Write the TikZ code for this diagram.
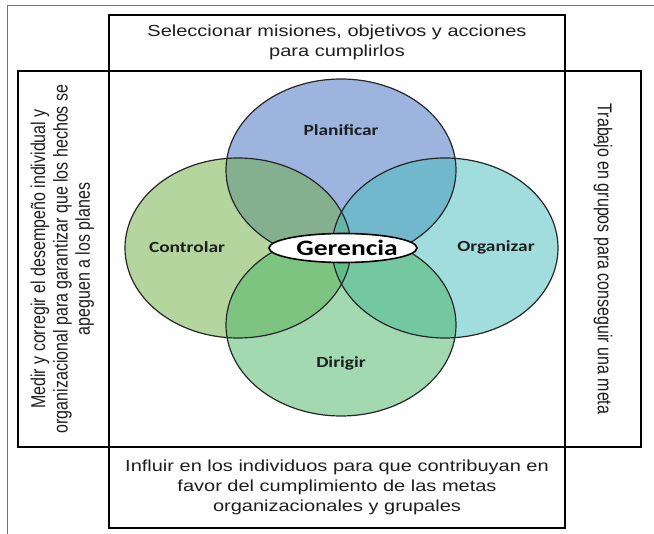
\documentclass[tikz,border=0pt]{standalone}
\usepackage{fontspec}
\usepackage{graphicx}
\setmainfont{Liberation Sans}
\newfontfamily\calfont{Carlito}
\usetikzlibrary{shapes.geometric}
\definecolor{cP}{RGB}{59,107,191}
\definecolor{cC}{RGB}{109,173,65}
\definecolor{cO}{RGB}{71,189,189}
\definecolor{cD}{RGB}{71,181,101}
\definecolor{txt}{RGB}{30,30,30}
\begin{document}
\begin{tikzpicture}[x=1pt,y=-1pt,
  boxline/.style={draw=black,line width=1.4pt},
  framel/.style={draw=black!55,line width=0.8pt},
  vennfill/.style={fill opacity=0.5},
  vennline/.style={draw=black!85,line width=1.2pt},
  btxt/.style={font=\fontsize{16}{20}\selectfont,text=txt,align=center,inner sep=0pt},
  vtxt/.style={font=\fontsize{16}{18}\selectfont,text=txt,align=center,inner sep=0pt},
  ltxt/.style={font=\calfont\bfseries\fontsize{15.5}{18}\selectfont,text=txt,inner sep=0pt},
  gtxt/.style={font=\calfont\bfseries\fontsize{22}{24}\selectfont,text=black,inner sep=0pt}]
\useasboundingbox (0,0) rectangle (654,534);
\fill[white] (0,0) rectangle (654,534);
% outer frame
\coordinate (f1) at (7,534);
\coordinate (f2) at (7,5);
\coordinate (f3) at (654,5);
\draw[framel] (f1) -- (f2) -- (f3);
% cross boxes
\draw[boxline] (109,15) rectangle (565,528);
\draw[boxline] (18,71) rectangle (641,447);
% venn fills
\fill[cP,vennfill] (341,170) ellipse [x radius=115, y radius=91];
\fill[cC,vennfill] (238,248) ellipse [x radius=113, y radius=90];
\fill[cO,vennfill] (445,248) ellipse [x radius=113, y radius=90];
\fill[cD,vennfill] (341,325) ellipse [x radius=115, y radius=91];
% venn outlines
\draw[vennline] (341,170) ellipse [x radius=115, y radius=91];
\draw[vennline] (238,248) ellipse [x radius=113, y radius=90];
\draw[vennline] (445,248) ellipse [x radius=113, y radius=90];
\draw[vennline] (341,325) ellipse [x radius=115, y radius=91];
% labels
\node[ltxt] (plan) at (341,130) {\scalebox{1.25}[1]{Planificar}};
\node[ltxt] (ctrl) at (187,247) {\scalebox{1.25}[1]{Controlar}};
\node[ltxt] (org) at (496,247) {\scalebox{1.25}[1]{Organizar}};
\node[ltxt] (dir) at (341,363) {\scalebox{1.25}[1]{Dirigir}};
\node[ellipse,draw=black,line width=1.6pt,fill=white,minimum width=148pt,minimum height=29pt,inner sep=0pt] (ger) at (343,248) {};
\node[gtxt] (gert) at (347,248) {\scalebox{1.25}[1]{Gerencia}};
% box texts
\node[btxt] (top) at (337,43) {\scalebox{1.25}[1]{\begin{tabular}{@{}c@{}}Seleccionar misiones, objetivos y acciones\\para cumplirlos\end{tabular}}};
\node[btxt] (bot) at (337,488) {\scalebox{1.25}[1]{\begin{tabular}{@{}c@{}}Influir en los individuos para que contribuyan en\\favor del cumplimiento de las metas\\organizacionales y grupales\end{tabular}}};
\node[vtxt,rotate=90] (left) at (63,259) {\scalebox{1}[1.25]{\begin{tabular}{@{}c@{}}Medir y corregir el desempeño individual y\\organizacional para garantizar que los hechos se\\apeguen a los planes\end{tabular}}};
\node[vtxt,rotate=-90] (right) at (603,259) {\scalebox{1}[1.25]{Trabajo en grupos para conseguir una meta}};
\end{tikzpicture}
\end{document}
